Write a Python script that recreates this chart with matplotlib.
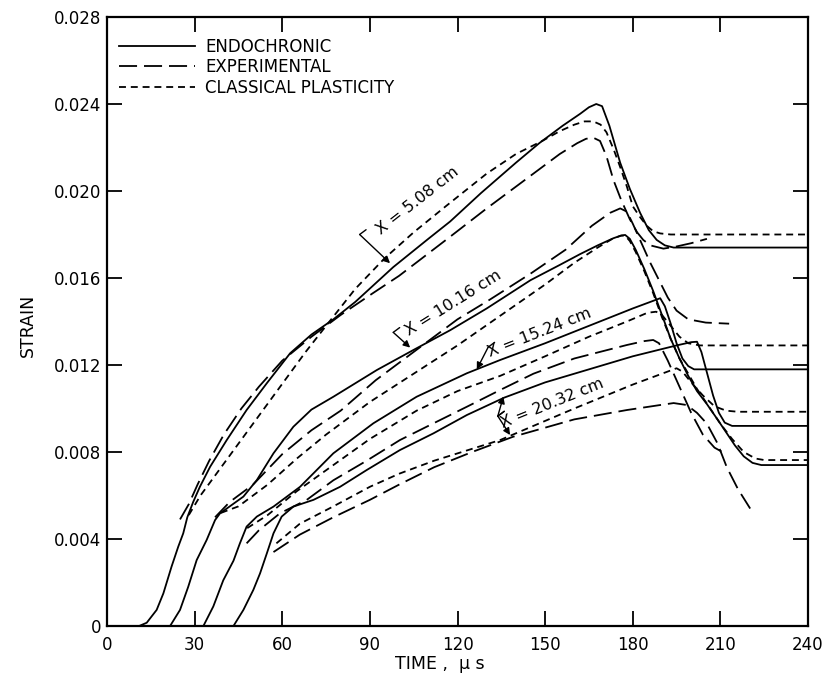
import matplotlib
matplotlib.use("Agg")
import matplotlib.pyplot as plt

# ---------------- data (time in microseconds, strain in units of 1e-3) ----------------
# X = 5.08 cm
endo_508_t = [11, 13.6, 17, 19.3, 22.1, 24.4, 26.1, 27.5, 29.5, 31.8, 35.3, 41, 47.8, 54.7, 62.7, 70, 77.5, 85, 98, 110, 117.5, 128, 140, 148, 156, 162, 165, 167.5, 169.5, 172, 175.7, 179, 182.5, 185.5, 188.2, 191, 194, 200, 240]
endo_508_s = [0, 0.15, 0.74, 1.5, 2.73, 3.65, 4.26, 5.0, 5.7, 6.4, 7.32, 8.55, 9.93, 11.16, 12.54, 13.4, 14.1, 14.9, 16.5, 17.8, 18.6, 19.9, 21.3, 22.2, 23.0, 23.55, 23.85, 24.0, 23.9, 23.0, 21.3, 20.1, 19.0, 18.2, 17.75, 17.5, 17.4, 17.4, 17.4]
exp_508_t = [25, 28, 31, 35, 40, 46, 52, 60, 70, 80, 91, 100, 117.5, 130, 145, 155, 161, 164, 166.5, 168.8, 171, 173.4, 176, 179, 181.5, 183.6, 186, 190.5, 195, 200, 205.4]
exp_508_s = [4.9, 5.6, 6.5, 7.6, 8.8, 10.0, 11.0, 12.2, 13.3, 14.3, 15.3, 16.1, 17.9, 19.2, 20.7, 21.7, 22.2, 22.4, 22.45, 22.3, 21.6, 20.5, 19.6, 18.7, 18.1, 17.75, 17.5, 17.35, 17.45, 17.6, 17.8]
clas_508_t = [28, 32, 38, 44, 50, 56, 62, 68, 75, 85, 95, 105, 116, 130, 140, 149, 155, 160, 163.5, 166.5, 169, 171, 173.5, 175.7, 178, 180, 182.5, 184.8, 187, 189.4, 193, 240]
clas_508_s = [5.1, 6.0, 7.1, 8.2, 9.3, 10.4, 11.5, 12.6, 13.8, 15.5, 16.9, 18.1, 19.3, 20.8, 21.7, 22.3, 22.75, 23.05, 23.2, 23.2, 23.05, 22.7, 21.9, 21.1, 20.2, 19.3, 18.8, 18.4, 18.15, 18.05, 18.0, 18.0]

# X = 10.16 cm
endo_1016_t = [21.6, 25, 27.8, 30.7, 34.1, 37, 38.7, 41, 46.7, 51.3, 57, 63.8, 70, 77.5, 92.4, 104.9, 117.5, 130, 145, 155, 162, 168, 173.4, 176, 177.4, 179, 181, 184, 187, 190, 193, 196, 199, 202, 205.4, 209, 212, 215, 218, 221, 224, 240]
endo_1016_s = [0, 0.74, 1.8, 3.03, 3.95, 4.87, 5.18, 5.4, 5.95, 6.71, 7.94, 9.16, 9.95, 10.54, 11.77, 12.69, 13.6, 14.6, 15.9, 16.6, 17.1, 17.5, 17.83, 17.95, 17.98, 17.8, 17.3, 16.4, 15.4, 14.3, 13.2, 12.3, 11.5, 10.8, 10.2, 9.5, 8.9, 8.3, 7.8, 7.5, 7.4, 7.4]
exp_1016_t = [37, 42, 50, 60, 70, 80, 92, 105, 115, 120, 131, 145, 157, 166, 172.3, 175.7, 178, 180, 183, 186, 189, 192, 195, 199, 205, 213]
exp_1016_s = [5.0, 5.7, 6.5, 7.9, 9.0, 9.9, 11.3, 12.6, 13.6, 14.1, 15.0, 16.2, 17.3, 18.4, 19.0, 19.2, 19.05, 18.5, 17.6, 16.7, 15.9, 15.1, 14.5, 14.1, 13.95, 13.9]
clas_1016_t = [39, 45, 55, 65, 75, 90, 105, 120, 135, 150, 160, 168, 173, 176, 177.4, 179, 181, 184, 187, 190, 193, 196, 199, 202, 206, 210, 214, 218, 222, 225, 240]
clas_1016_s = [5.2, 5.5, 6.5, 7.7, 8.8, 10.3, 11.6, 12.9, 14.3, 15.7, 16.7, 17.4, 17.8, 17.95, 17.95, 17.7, 17.2, 16.3, 15.3, 14.2, 13.2, 12.3, 11.6, 10.9, 10.1, 9.3, 8.6, 8.0, 7.7, 7.63, 7.63]

# X = 15.24 cm
endo_1524_t = [33, 36.4, 39.8, 43.3, 45.5, 47.8, 51.3, 57, 66.1, 77.5, 91.2, 106, 123.2, 134.6, 150, 165, 180, 186, 189.4, 191, 193, 195, 197, 199, 201, 240]
endo_1524_s = [0, 0.9, 2.1, 3.0, 3.8, 4.57, 5.03, 5.49, 6.4, 7.94, 9.32, 10.54, 11.62, 12.23, 13.0, 13.8, 14.6, 14.9, 15.07, 14.7, 13.9, 13.0, 12.3, 11.95, 11.8, 11.8]
exp_1524_t = [47.8, 52, 59.2, 68.4, 77.5, 88.9, 100.3, 111.8, 123.2, 134.6, 146, 160, 178, 184, 187, 189, 192, 196, 200, 204, 208, 212]
exp_1524_s = [3.8, 4.4, 5.18, 5.8, 6.7, 7.6, 8.55, 9.32, 10.08, 10.85, 11.6, 12.3, 12.92, 13.1, 13.15, 13.0, 12.2, 11.0, 9.8, 8.8, 8.2, 7.9]
clas_1524_t = [48, 55, 65, 77.5, 90, 106, 120, 134.6, 150, 165, 178, 185, 188, 190, 193, 196, 199, 203, 240]
clas_1524_s = [4.5, 5.1, 6.2, 7.4, 8.6, 9.9, 10.8, 11.5, 12.4, 13.3, 14.0, 14.4, 14.45, 14.3, 13.8, 13.3, 13.0, 12.9, 12.9]

# X = 20.32 cm
endo_2032_t = [43.3, 46.7, 50.1, 52.4, 54.7, 57, 59.8, 63.8, 70.7, 79.8, 88.9, 100.3, 111.8, 123.2, 136, 150, 165, 180, 195, 200, 202, 203.5, 205.5, 207.5, 209.5, 211.5, 214, 240]
endo_2032_s = [0, 0.74, 1.66, 2.42, 3.33, 4.26, 5.03, 5.49, 5.8, 6.4, 7.17, 8.09, 8.86, 9.7, 10.5, 11.2, 11.8, 12.4, 12.9, 13.05, 13.07, 12.6, 11.6, 10.6, 9.8, 9.35, 9.2, 9.2]
exp_2032_t = [57, 66, 77.5, 90, 100, 112, 125, 139, 160, 178, 189.4, 194, 198.5, 202, 205.4, 209, 212.2, 216, 220.2]
exp_2032_s = [3.4, 4.2, 5.0, 5.8, 6.5, 7.3, 8.0, 8.7, 9.5, 9.93, 10.16, 10.25, 10.16, 9.8, 9.3, 8.4, 7.3, 6.3, 5.4]
clas_2032_t = [58, 66, 77.5, 90, 100, 112, 134.6, 160, 180, 195, 197, 200, 204, 208, 212, 216, 240]
clas_2032_s = [3.8, 4.7, 5.5, 6.4, 7.0, 7.6, 8.55, 10.0, 11.1, 11.85, 11.7, 11.2, 10.6, 10.1, 9.9, 9.85, 9.85]

x_ticks = [0, 30, 60, 90, 120, 150, 180, 210, 240]
y_ticks = [0, 0.004, 0.008, 0.012, 0.016, 0.020, 0.024, 0.028]
y_tick_labels = ["0", "0.004", "0.008", "0.012", "0.016", "0.020", "0.024", "0.028"]
legend_labels = ["ENDOCHRONIC", "EXPERIMENTAL", "CLASSICAL PLASTICITY"]
station_labels = ["X = 5.08 cm", "X = 10.16 cm", "X = 15.24 cm", "X = 20.32 cm"]

# ---------------- styling ----------------
plt.rcParams["font.family"] = ["DejaVu Sans"]
plt.rcParams["lines.scale_dashes"] = False
LW = 1.3
LONG = (0, (13, 5))
SHORT = (0, (5, 3.5))

fig = plt.figure(figsize=(8.26, 6.79), dpi=100)
ax = fig.add_axes([107 / 826, 53 / 679, 701 / 826, 609 / 679])

def sc(v):
    return [x * 1e-3 for x in v]

groups = [
    (endo_508_t, endo_508_s, exp_508_t, exp_508_s, clas_508_t, clas_508_s),
    (endo_1016_t, endo_1016_s, exp_1016_t, exp_1016_s, clas_1016_t, clas_1016_s),
    (endo_1524_t, endo_1524_s, exp_1524_t, exp_1524_s, clas_1524_t, clas_1524_s),
    (endo_2032_t, endo_2032_s, exp_2032_t, exp_2032_s, clas_2032_t, clas_2032_s),
]
for i, (et, es, xt, xs, ct, cs) in enumerate(groups):
    ax.plot(et, sc(es), color="black", lw=LW, ls="-",
            label=legend_labels[0] if i == 0 else None)
    ax.plot(xt, sc(xs), color="black", lw=LW, ls=LONG,
            label=legend_labels[1] if i == 0 else None)
    ax.plot(ct, sc(cs), color="black", lw=LW, ls=SHORT,
            label=legend_labels[2] if i == 0 else None)

ax.set_xlim(0, 240)
ax.set_ylim(0, 0.028)
ax.set_xticks(x_ticks)
ax.set_xticklabels([str(v) for v in x_ticks])
ax.set_yticks(y_ticks)
ax.set_yticklabels(y_tick_labels)
ax.tick_params(direction="in", length=11, width=1.3, top=True, right=True,
               labelsize=12, pad=7)
ax.tick_params(axis="y", pad=4)
for sp in ax.spines.values():
    sp.set_linewidth(1.6)

ax.set_xlabel("TIME ,  \u03bc s", fontsize=12.5)
ax.xaxis.set_label_coords(0.475, -0.062)
ax.xaxis.label.set_verticalalignment("center")
ax.set_ylabel("STRAIN", fontsize=12.5)
ax.yaxis.set_label_coords(-0.113, 0.494)
ax.yaxis.label.set_verticalalignment("center")

leg = ax.legend(loc="upper left", bbox_to_anchor=(0.0, 0.985), frameon=False,
                fontsize=12, handlelength=4.6, handletextpad=0.6,
                labelspacing=0.15, borderaxespad=0.3)

# station annotations: text position (t, strain), rotation
ann_text = [(106.5, 0.01957, 38), (118.5, 0.01486, 32), (148.0, 0.01348, 21.5), (152.5, 0.01023, 22)]
for (tx, ty, rot), lab in zip(ann_text, station_labels):
    ax.text(tx, ty, lab, rotation=rot, rotation_mode="anchor", ha="center",
            va="center", fontsize=11.5)

# bracket-style pointers: (bracket corner, arrow head)
arrow_specs = [((86.5, 0.01800), (96.9, 0.01668)),
               ((98.0, 0.01350), (103.8, 0.01280)),
               ((130.5, 0.01282), (126.6, 0.01180)),
               ((133.8, 0.00965), (135.7, 0.01055)),
               ((133.8, 0.00965), (138.0, 0.00878))]
for corner, head in arrow_specs:
    ax.annotate("", xy=head, xytext=corner,
                arrowprops=dict(arrowstyle="-|>", color="black", lw=1.0,
                                mutation_scale=10, shrinkA=0, shrinkB=0))
    ax.annotate("", xy=(corner[0] + 2.2, corner[1] + 0.00022), xytext=corner,
                arrowprops=dict(arrowstyle="-", color="black", lw=1.0,
                                shrinkA=0, shrinkB=0))

fig.savefig("out.png", dpi=100)
